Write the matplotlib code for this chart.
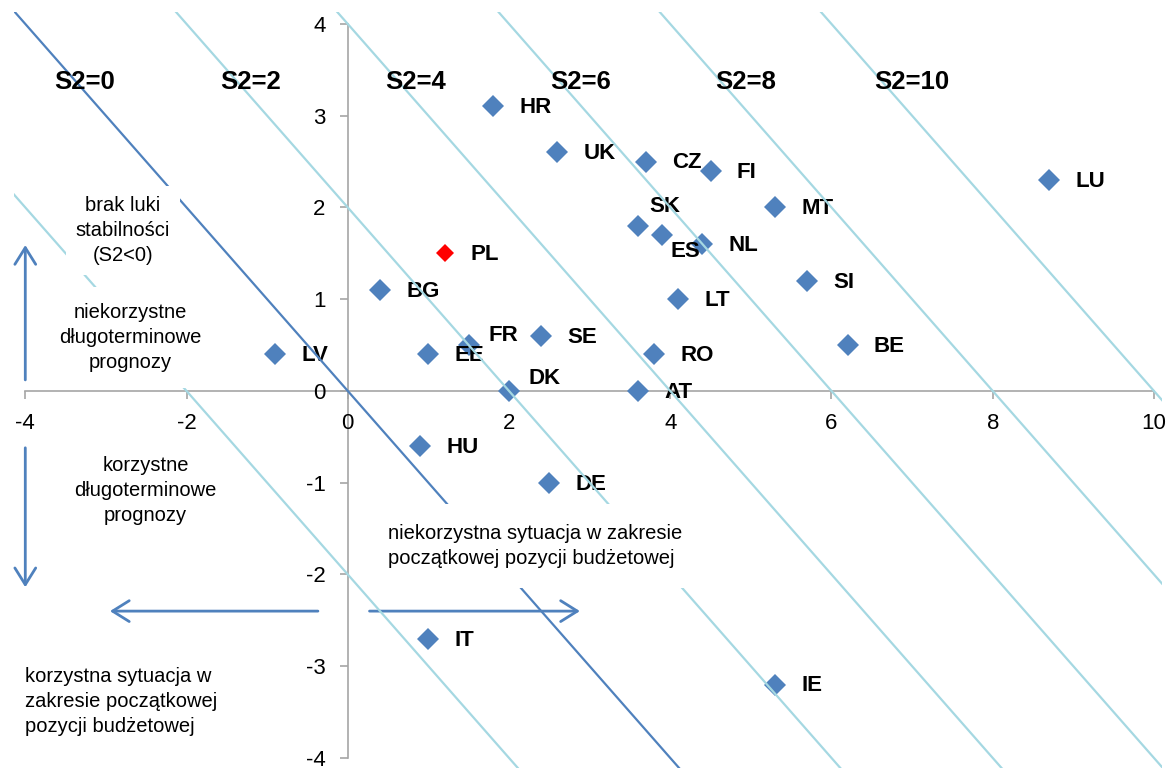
import matplotlib.pyplot as plt

plt.rcParams["axes.unicode_minus"] = False
plt.rcParams["font.family"] = ["Liberation Sans Narrow", "Liberation Sans", "DejaVu Sans"]

# data
countries = ["HR", "UK", "CZ", "FI", "LU", "MT", "SK", "ES", "NL", "PL", "SI", "BG", "LT",
             "SE", "FR", "BE", "LV", "EE", "RO", "DK", "AT", "HU", "DE", "IT", "IE"]
x_vals = [1.8, 2.6, 3.7, 4.5, 8.7, 5.3, 3.6, 3.9, 4.4, 1.2, 5.7, 0.4, 4.1,
          2.4, 1.5, 6.2, -0.9, 1.0, 3.8, 2.0, 3.6, 0.9, 2.5, 1.0, 5.3]
y_vals = [3.1, 2.6, 2.5, 2.4, 2.3, 2.0, 1.8, 1.7, 1.6, 1.5, 1.2, 1.1, 1.0,
          0.6, 0.5, 0.5, 0.4, 0.4, 0.4, 0.0, 0.0, -0.6, -1.0, -2.7, -3.2]
highlight = "PL"

s2_lines = [-2, 0, 2, 4, 6, 8, 10]
s2_labels = [0, 2, 4, 6, 8, 10]

x_ticks = [-4, -2, 0, 2, 4, 6, 8, 10]
y_ticks = [-4, -3, -2, -1, 0, 1, 2, 3, 4]

BLUE = "#4F81BD"
LIGHT = "#A5D8E2"
AXIS_GRAY = "#A6A6A6"

# labels that are not placed right of their marker (offset in points)
label_offsets = {"SK": (8, 14), "ES": (6, -12), "FR": (14, 7), "DK": (14, 9)}
default_offset = (19, -1)

fig = plt.figure(figsize=(11.74, 7.68), dpi=100)
ax = fig.add_axes([14 / 1174, 0, 1148 / 1174, 756 / 768])
ax.set_xlim(-4.14, 10.1)
ax.set_ylim(-4.11, 4.13)

# axes crossing at the origin
for side in ["top", "right"]:
    ax.spines[side].set_visible(False)
ax.spines["left"].set_position(("data", 0))
ax.spines["bottom"].set_position(("data", 0))
ax.spines["left"].set_bounds(-4, 4)
ax.spines["bottom"].set_bounds(-4, 10)
for side in ["left", "bottom"]:
    ax.spines[side].set_color(AXIS_GRAY)
    ax.spines[side].set_linewidth(1.2)
    ax.spines[side].set_zorder(1)
ax.set_xticks(x_ticks)
ax.set_yticks(y_ticks)
ax.tick_params(axis="both", direction="out", length=6, width=1.2, color=AXIS_GRAY,
               labelsize=16, labelcolor="black", pad=10)

# iso-S2 lines (x + y = S2)
for s in s2_lines:
    if s == 0:
        ax.axline((0, s), slope=-1, color=BLUE, lw=1.6, zorder=4)
    else:
        ax.axline((0, s), slope=-1, color=LIGHT, lw=1.6, zorder=4)

for s in s2_labels:
    ax.text(s * 1.025 - 3.26, 3.37, f"S2={s}", fontsize=18.5, fontweight="bold",
            ha="center", va="center", zorder=7)

# points
for name, x, y in zip(countries, x_vals, y_vals):
    if name == highlight:
        ax.plot(x, y, marker="D", ms=9, color="red", mew=0, ls="none", zorder=3)
    else:
        ax.plot(x, y, marker="D", ms=11.5, color=BLUE, mew=0, ls="none", zorder=3)
    ax.annotate(name, (x, y), xytext=label_offsets.get(name, default_offset),
                textcoords="offset points", ha="left", va="center",
                fontsize=16, fontweight="bold", zorder=3.5)

# arrows
arrow_kw = dict(arrowstyle="->,head_length=1.2,head_width=0.75", color=BLUE, lw=2,
                shrinkA=0, shrinkB=0, mutation_scale=10)
ax.annotate("", xy=(-4.0, 1.59), xytext=(-4.0, 0.12), arrowprops=arrow_kw, zorder=3)
ax.annotate("", xy=(-4.0, -2.14), xytext=(-4.0, -0.62), arrowprops=arrow_kw, zorder=3)
ax.annotate("", xy=(-2.95, -2.40), xytext=(-0.37, -2.40), arrowprops=arrow_kw, zorder=3)
ax.annotate("", xy=(2.88, -2.40), xytext=(0.27, -2.40), arrowprops=arrow_kw, zorder=3)

# descriptive text boxes
def note(x, y, s, ha="center", pad=0.5):
    ax.text(x, y, s, fontsize=14.5, ha=ha, va="center", multialignment=ha, zorder=6,
            linespacing=1.4,
            bbox=dict(boxstyle=f"square,pad={pad}", facecolor="white", edgecolor="none"))

note(-2.79, 1.75, "brak luki\nstabilności\n(S2<0)", pad=0.5)
note(-2.70, 0.58, "niekorzystne\ndługoterminowe\nprognozy", pad=0.8)
note(-2.51, -1.08, "korzystne\ndługoterminowe\nprognozy", pad=0.5)
note(0.50, -1.69, "niekorzystna sytuacja w zakresie\npoczątkowej pozycji budżetowej",
     ha="left", pad=1.0)
note(-4.0, -3.38, "korzystna sytuacja w\nzakresie początkowej\npozycji budżetowej",
     ha="left", pad=0.2)

fig.savefig("out.png", dpi=100)
